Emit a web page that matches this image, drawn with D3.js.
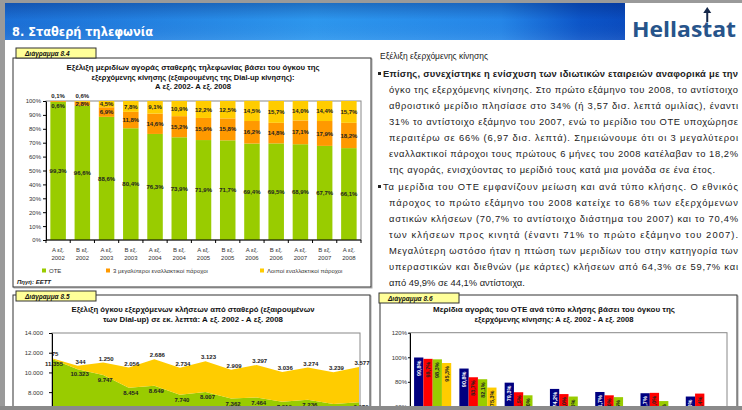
<!DOCTYPE html>
<html lang="el">
<head>
<meta charset="UTF-8">
<title>Σταθερή τηλεφωνία</title>
<script src="https://cdn.jsdelivr.net/npm/d3@7"></script>
<style>
  body { margin: 0; overflow: hidden; background: #fff; font-family: "Liberation Sans", Arial, sans-serif; }
  svg { display: block; }
</style>
</head>
<body>
<svg id="page" width="742" height="410"></svg>
<script>
// ---- Διάγραμμα 8.4: market shares by outgoing volume (%)
const periods = ["Α εξ. 2002", "Β εξ. 2002", "Α εξ. 2003", "Β εξ. 2003", "Α εξ. 2004", "Β εξ. 2004", "Α εξ. 2005",
                 "Β εξ. 2005", "Α εξ. 2006", "Β εξ. 2006", "Α εξ. 2007", "Β εξ. 2007", "Α εξ. 2008"];
const oteShare   = [99.3, 96.6, 88.6, 80.4, 76.3, 73.9, 71.9, 71.7, 69.4, 69.5, 68.9, 67.7, 66.1];
const top3Share  = [0.6, 2.8, 6.9, 11.8, 14.6, 15.2, 15.9, 15.8, 16.2, 14.8, 17.1, 17.9, 18.2];
const otherShare = [0.1, 0.6, 4.5, 7.8, 9.1, 10.9, 12.2, 12.5, 14.5, 15.7, 14.0, 14.4, 15.7];
const shareTicks = [0, 10, 20, 30, 40, 50, 60, 70, 80, 90, 100];
const shareSeries = ["ΟΤΕ", "3 μεγαλύτεροι εναλλακτικοί πάροχοι", "Λοιποί εναλλακτικοί πάροχοι"];

// ---- Διάγραμμα 8.5: outgoing volume (million minutes)
const oteVolume = [11355, 10323, 9747, 8454, 8649, 7740, 8007, 7362, 7464, 7019, 7236, 6789, 6970];
const altVolume = [75, 344, 1250, 2056, 2686, 2734, 3123, 2909, 3297, 3036, 3274, 3239, 3577];
const volumeTicks = [0, 2000, 4000, 6000, 8000, 10000, 12000, 14000];

// ---- Διάγραμμα 8.6: OTE share per call type (%)
const firstHalves = ["Α εξ. 2002", "Α εξ. 2003", "Α εξ. 2004", "Α εξ. 2005", "Α εξ. 2006", "Α εξ. 2007", "Α εξ. 2008"];
const callTypes = ["Αστικές", "Προς κινητά", "Υπεραστικές", "Διεθνείς"];
const localShare  = [99.8, 90.8, 79.3, 74.2, 71.7, 70.7, 68.0];
const mobileShare = [98.7, 83.7, 71.5, 70.0, 69.0, 71.0, 70.4];
const longShare   = [98.3, 82.1, 69.0, 68.0, 67.5, 64.3, 59.7];
const intlShare   = [95.3, 75.3, 58.4, 55.1, 52.6, 49.9, 44.1];
const typeTicks = [0, 20, 40, 60, 80, 100, 120];

// ---- text block
const heading = "Εξέλιξη εξερχόμενης κίνησης";
const para1 = [
  "Επίσης, συνεχίστηκε η ενίσχυση των ιδιωτικών εταιρειών αναφορικά με την",
  "όγκο της εξερχόμενης κίνησης. Στο πρώτο εξάμηνο του 2008, το αντίστοιχο",
  "αθροιστικό μερίδιο πλησίασε στο 34% (ή 3,57 δισ. λεπτά ομιλίας), έναντι",
  "31% το αντίστοιχο εξάμηνο του 2007, ενώ το μερίδιο του ΟΤΕ υποχώρησε",
  "περαιτέρω σε 66% (6,97 δισ. λεπτά). Σημειώνουμε ότι οι 3 μεγαλύτεροι",
  "εναλλακτικοί πάροχοι τους πρώτους 6 μήνες του 2008 κατέλαβαν το 18,2%",
  "της αγοράς, ενισχύοντας το μερίδιό τους κατά μια μονάδα σε ένα έτος."
];
const para2 = [
  "Τα μερίδια του ΟΤΕ εμφανίζουν μείωση και ανά τύπο κλήσης. Ο εθνικός",
  "πάροχος το πρώτο εξάμηνο του 2008 κατείχε το 68% των εξερχόμενων",
  "αστικών κλήσεων (70,7% το αντίστοιχο διάστημα του 2007) και το 70,4%",
  "των κλήσεων προς κινητά (έναντι 71% το πρώτο εξάμηνο του 2007).",
  "Μεγαλύτερη ωστόσο ήταν η πτώση των μεριδίων του στην κατηγορία των",
  "υπεραστικών και διεθνών (με κάρτες) κλήσεων από 64,3% σε 59,7% και",
  "από 49,9% σε 44,1% αντίστοιχα."
];

const GREEN = "#99cc00", ORANGE = "#ff9900", YELLOW = "#ffcc00", NAVY = "#000080", RED = "#ff0000";
const FONT = "'Liberation Sans', Arial, sans-serif";
const el = d3.formatLocale({ decimal: ",", thousands: ".", grouping: [3], currency: ["", "€"] });
const pct1 = v => el.format(".1f")(v) + "%";
const thousands = el.format(",d");
const VIEW_BOTTOM = 410;

const svg = d3.select("#page");
const defs = svg.append("defs");

// ---------- page chrome ----------
const hGrad = defs.append("linearGradient").attr("id", "hdr").attr("x1", 0).attr("x2", 1);
[[0, "#1b6fd6"], [0.5, "#2d97ee"], [0.8, "#2586e8"], [0.93, "#0c55c8"], [1, "#0a4cbf"]]
  .forEach(([o, c]) => hGrad.append("stop").attr("offset", o).attr("stop-color", c));
const vGrad = defs.append("linearGradient").attr("id", "hdrShade").attr("x1", 0).attr("x2", 0).attr("y1", 0).attr("y2", 1);
[[0, "rgba(0,20,90,0.30)"], [0.45, "rgba(0,20,90,0)"], [1, "rgba(255,255,255,0.08)"]]
  .forEach(([o, c]) => vGrad.append("stop").attr("offset", o).attr("stop-color", c));

svg.append("rect").attr("x", 5).attr("y", 3).attr("width", 620).attr("height", 37).attr("fill", "url(#hdr)");
svg.append("rect").attr("x", 5).attr("y", 3).attr("width", 620).attr("height", 37).attr("fill", "url(#hdrShade)");
svg.append("text").attr("x", 12).attr("y", 36)
  .attr("font-family", "'DejaVu Sans', Verdana, sans-serif").attr("font-weight", "bold").attr("font-size", 13)
  .attr("fill", "#fff").attr("textLength", 141).attr("lengthAdjust", "spacingAndGlyphs")
  .text("8. Σταθερή τηλεφωνία");

// logo
const logo = svg.append("text").attr("x", 632).attr("y", 37)
  .attr("font-family", "'Open Sans', sans-serif").attr("font-weight", "bold").attr("font-size", 22)
  .attr("fill", "#27548a").attr("textLength", 104).attr("lengthAdjust", "spacingAndGlyphs")
  .text("Hellastat");
const tBox = logo.node().getExtentOfChar(6);
const ax = tBox.x + tBox.width / 2;
svg.append("line").attr("x1", ax).attr("x2", ax).attr("y1", 22).attr("y2", 11)
  .attr("stroke", "#15284a").attr("stroke-width", 2);
svg.append("path").attr("d", `M${ax - 4},${13} L${ax},${7} L${ax + 4},${13} Z`).attr("fill", "#15284a");

// grey window edges
svg.append("rect").attr("x", 0).attr("y", 0).attr("width", 742).attr("height", 3).attr("fill", "#9a9a9a");
svg.append("rect").attr("x", 0).attr("y", 0).attr("width", 5).attr("height", 410).attr("fill", "#9a9a9a");

function panel(x, y, w, h, label, lx, ly) {
  svg.append("rect").attr("x", x + 1).attr("y", y + 1).attr("width", w).attr("height", h)
    .attr("fill", "none").attr("stroke", "#aaa");
  svg.append("rect").attr("x", x).attr("y", y).attr("width", w).attr("height", h)
    .attr("fill", "#fff").attr("stroke", "#333");
  svg.append("rect").attr("x", lx).attr("y", ly).attr("width", 80).attr("height", 10)
    .attr("fill", "#ffff99").attr("stroke", "#333");
  svg.append("text").attr("x", lx + 9).attr("y", ly + 7.5)
    .attr("font-family", FONT).attr("font-size", 6.5).attr("font-weight", "bold").attr("font-style", "italic")
    .attr("fill", "#111").text(label);
}

function title(lines, cx, y0, widths) {
  lines.forEach((s, i) => {
    svg.append("text").attr("x", cx).attr("y", y0 + i * 9.5).attr("text-anchor", "middle")
      .attr("font-family", FONT).attr("font-size", 7).attr("font-weight", "bold").attr("fill", "#111")
      .attr("textLength", widths[i]).attr("lengthAdjust", "spacingAndGlyphs").text(s);
  });
}

function styleAxis(g) {
  g.attr("font-family", FONT).attr("font-size", 6);
  g.selectAll("text").attr("fill", "#333");
  g.selectAll("line, path").attr("stroke", "#000");
}

// ---------- Διάγραμμα 8.4 ----------
panel(13, 58, 358, 229, "Διάγραμμα 8.4", 16, 48);
title(["Εξέλιξη μεριδίων αγοράς σταθερής τηλεφωνίας βάσει του όγκου της",
       "εξερχόμενης κίνησης (εξαιρουμένης της Dial-up κίνησης):",
       "Α εξ. 2002- Α εξ. 2008"], 193, 70, [253, 203, 76]);

const x84 = d3.scaleBand().domain(periods).range([46, 361]).paddingInner(0.36).paddingOuter(0.18);
const y84 = d3.scaleLinear().domain([0, 100]).range([240, 101]);

svg.append("rect").attr("x", 46).attr("y", y84(100)).attr("width", 315).attr("height", y84(0) - y84(100))
  .attr("fill", "none").attr("stroke", "#888");

const shareRows = periods.map((p, i) => ({ p, ote: oteShare[i], top3: top3Share[i], other: otherShare[i] }));
const stack84 = d3.stack().keys(["ote", "top3", "other"])(shareRows);
const colors84 = [GREEN, ORANGE, YELLOW];

svg.append("g").selectAll("g").data(stack84).join("g").attr("fill", (d, i) => colors84[i])
  .selectAll("rect").data(d => d).join("rect")
  .attr("x", d => x84(d.data.p)).attr("width", x84.bandwidth())
  .attr("y", d => y84(d[1])).attr("height", d => y84(d[0]) - y84(d[1]));

const labels84 = svg.append("g").attr("font-family", FONT).attr("font-size", 6).attr("font-weight", "bold")
  .attr("fill", "#222").attr("text-anchor", "middle");
stack84.forEach((layer, k) => {
  layer.forEach(d => {
    const v = d[1] - d[0];
    let yy = y84((d[0] + d[1]) / 2);
    if (k === 2 && v < 1) yy = y84(100) - 5;
    if (k === 1 && v < 1) yy = y84(100) + 5;
    labels84.append("text").attr("x", x84(d.data.p) + x84.bandwidth() / 2).attr("y", yy).attr("dy", "0.35em")
      .text(pct1(v));
  });
});

svg.append("g").attr("transform", "translate(46,0)")
  .call(d3.axisLeft(y84).tickValues(shareTicks).tickFormat(d => d + "%").tickSize(3).tickPadding(2).tickSizeOuter(0))
  .call(styleAxis);
const xAxis84 = svg.append("g").attr("transform", "translate(0,240)");
xAxis84.append("line").attr("x1", 46).attr("x2", 361).attr("stroke", "#000");
xAxis84.selectAll("line.tk").data(d3.range(periods.length + 1)).join("line").attr("class", "tk")
  .attr("x1", i => 46 + i * x84.step()).attr("x2", i => 46 + i * x84.step()).attr("y2", 3).attr("stroke", "#000");
const xl = xAxis84.selectAll("text").data(periods).join("text")
  .attr("font-family", FONT).attr("font-size", 6).attr("fill", "#333").attr("text-anchor", "middle");
xl.append("tspan").attr("x", d => x84(d) + x84.bandwidth() / 2).attr("y", 12).text(d => d.slice(0, d.lastIndexOf(" ")));
xl.append("tspan").attr("x", d => x84(d) + x84.bandwidth() / 2).attr("y", 20).text(d => d.slice(d.lastIndexOf(" ") + 1));

const legX = [42, 106, 260];
shareSeries.forEach((s, i) => {
  svg.append("rect").attr("x", legX[i]).attr("y", 268.5).attr("width", 4).attr("height", 4).attr("fill", colors84[i]);
  svg.append("text").attr("x", legX[i] + 7).attr("y", 273).attr("font-family", FONT).attr("font-size", 6)
    .attr("fill", "#333").text(s);
});
svg.append("text").attr("x", 17).attr("y", 284).attr("font-family", FONT).attr("font-size", 6)
  .attr("font-weight", "bold").attr("font-style", "italic").attr("fill", "#222").text("Πηγή: ΕΕΤΤ");

// ---------- text block ----------
svg.append("text").attr("x", 380).attr("y", 58.5).attr("font-family", FONT).attr("font-size", 9.5)
  .attr("fill", "#222").attr("textLength", 108).attr("lengthAdjust", "spacingAndGlyphs").text(heading);

// lastWidth: width of the paragraph's closing line (null = natural width)
function paragraph(lines, yc, boldFirst, lastWidth) {
  svg.append("rect").attr("x", 378).attr("y", yc - 2).attr("width", 3).attr("height", 3).attr("fill", "#222");
  lines.forEach((s, i) => {
    const x = i === 0 ? 383 : 389;
    const t = svg.append("text").attr("x", x).attr("y", yc + i * 16 + 3.3)
      .attr("font-family", FONT).attr("font-size", 9.4).attr("fill", "#222").text(s);
    if (boldFirst && i === 0) t.attr("font-weight", "bold");
    const len = i < lines.length - 1 ? 738 - x : lastWidth;
    if (len) t.attr("textLength", len).attr("lengthAdjust", "spacing");
  });
}
paragraph(para1, 74, true, 326);
paragraph(para2, 187, false, null);

// ---------- Διάγραμμα 8.5 ----------
panel(13, 295, 357, 130, "Διάγραμμα 8.5", 16, 291);
title(["Εξέλιξη όγκου εξερχόμενων κλήσεων από σταθερό (εξαιρουμένων",
       "των Dial-up) σε εκ. λεπτά: Α εξ. 2002 - Α εξ. 2008"], 193, 312, [243, 180]);

const x85 = d3.scalePoint().domain(periods).range([52, 359]);
const y85 = d3.scaleLinear().domain([0, 14000]).range([471, 333]);
svg.append("rect").attr("x", 52).attr("y", 333).attr("width", 308).attr("height", 138)
  .attr("fill", "none").attr("stroke", "#888");

const volRows = periods.map((p, i) => ({ p, ote: oteVolume[i], alt: altVolume[i] }));
const stack85 = d3.stack().keys(["ote", "alt"])(volRows);
const area85 = d3.area().x(d => x85(d.data.p)).y0(d => y85(d[0])).y1(d => y85(d[1]));
svg.append("g").selectAll("path").data(stack85).join("path")
  .attr("fill", (d, i) => [GREEN, YELLOW][i]).attr("d", area85);

const labels85 = svg.append("g").attr("font-family", FONT).attr("font-size", 6).attr("font-weight", "bold")
  .attr("fill", "#222").attr("text-anchor", "middle");
stack85[0].forEach(d => labels85.append("text").attr("x", x85(d.data.p) + 2).attr("y", y85(d[1]) + 5)
  .attr("dy", "0.35em").text(thousands(d[1] - d[0])));
stack85[1].forEach(d => labels85.append("text").attr("x", x85(d.data.p) + 3).attr("y", y85(d[1]) - 4)
  .attr("dy", "0.35em").text(thousands(d[1] - d[0])));

svg.append("g").attr("transform", "translate(52,0)")
  .call(d3.axisLeft(y85).tickValues(volumeTicks).tickFormat(thousands).tickSize(3).tickPadding(6).tickSizeOuter(0))
  .call(styleAxis);

// ---------- Διάγραμμα 8.6 ----------
panel(380, 295, 357, 130, "Διάγραμμα 8.6", 379, 293);
title(["Μερίδια αγοράς του ΟΤΕ ανά τύπο κλήσης βάσει του όγκου της",
       "εξερχόμενης κίνησης: Α εξ. 2002 - Α εξ. 2008"], 554, 312, [242, 159]);

const x86 = d3.scaleBand().domain(firstHalves).range([410, 727]).paddingInner(0.18).paddingOuter(0.09);
const x86i = d3.scaleBand().domain(callTypes).range([0, x86.bandwidth()]);
const y86 = d3.scaleLinear().domain([0, 120]).range([480, 332.7]);
svg.append("rect").attr("x", 410).attr("y", y86(120)).attr("width", 317).attr("height", y86(0) - y86(120))
  .attr("fill", "none").attr("stroke", "#888");

const typeValues = [localShare, mobileShare, longShare, intlShare];
const colors86 = [NAVY, RED, GREEN, YELLOW];
const bars86 = firstHalves.flatMap((h, i) => callTypes.map((c, k) => ({ h, c, k, v: typeValues[k][i] })));
svg.append("g").selectAll("rect").data(bars86).join("rect")
  .attr("x", d => x86(d.h) + x86i(d.c)).attr("width", x86i.bandwidth())
  .attr("y", d => y86(d.v)).attr("height", d => y86(0) - y86(d.v))
  .attr("fill", d => colors86[d.k]);
// labels of bars whose top lies below the visible window are not drawn
svg.append("g").selectAll("text").data(bars86.filter(d => y86(d.v) < VIEW_BOTTOM - 4)).join("text")
  .attr("transform", d => `translate(${x86(d.h) + x86i(d.c) + x86i.bandwidth() / 2 + 2},${y86(d.v) + 3}) rotate(-90)`)
  .attr("text-anchor", "end").attr("font-family", FONT).attr("font-size", 5.5).attr("font-weight", "bold")
  .attr("fill", d => d.k === 0 ? "#fff" : "#222").text(d => pct1(d.v));

svg.append("g").attr("transform", "translate(410,0)")
  .call(d3.axisLeft(y86).tickValues(typeTicks.filter(t => y86(t) < VIEW_BOTTOM)).tickFormat(d => d + "%")
    .tickSize(2).tickPadding(1).tickSizeOuter(0))
  .call(styleAxis);

// bottom window edge
svg.append("rect").attr("x", 0).attr("y", 406).attr("width", 742).attr("height", 4).attr("fill", "#8a8a8a");
</script>
</body>
</html>
